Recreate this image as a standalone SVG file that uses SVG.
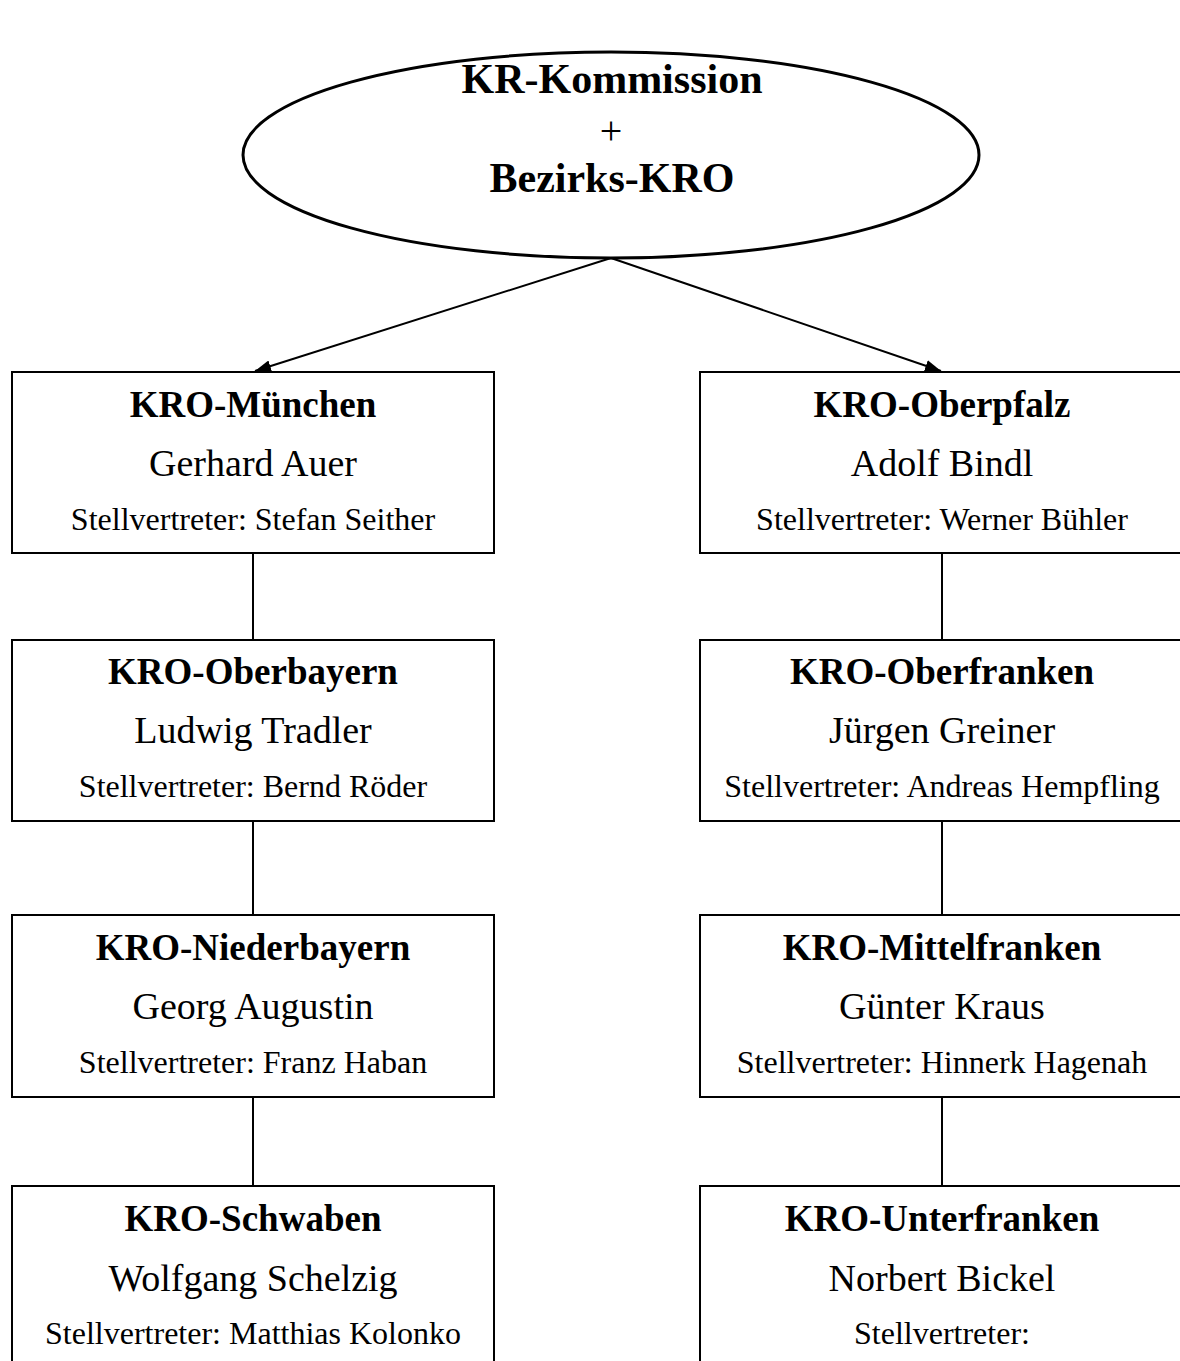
<svg xmlns="http://www.w3.org/2000/svg" width="1180" height="1361" viewBox="0 0 1180 1361">
<style>
.box{fill:#fff;stroke:#000;stroke-width:2}
.t{font-family:"Liberation Serif","Times New Roman",serif;text-anchor:middle;fill:#000}
.h{font-size:37px;font-weight:bold}
.n{font-size:38px}
.s{font-size:32px}
.top{font-size:42px;font-weight:bold}
.c{stroke:#000;stroke-width:2;fill:none}
</style>
<defs>
<marker id="ah" viewBox="0 0 16 12" refX="16" refY="6" markerWidth="16" markerHeight="12" markerUnits="userSpaceOnUse" orient="auto"><path d="M0,0 L16,6 L0,12 z" fill="#000"/></marker>
</defs>
<rect width="1180" height="1361" fill="#fff"/>
<g id="connectors">
<line class="c" x1="611" y1="258" x2="255" y2="371" marker-end="url(#ah)"/>
<line class="c" x1="611" y1="258" x2="941" y2="371" marker-end="url(#ah)"/>
<line class="c" x1="253" y1="553" x2="253" y2="640"/>
<line class="c" x1="253" y1="821" x2="253" y2="915"/>
<line class="c" x1="253" y1="1097" x2="253" y2="1186"/>
<line class="c" x1="942" y1="553" x2="942" y2="640"/>
<line class="c" x1="942" y1="821" x2="942" y2="915"/>
<line class="c" x1="942" y1="1097" x2="942" y2="1186"/>
</g>
<g id="root">
<ellipse cx="611" cy="155" rx="368" ry="103" fill="#fff" stroke="#000" stroke-width="3"/>
<text class="t top" x="612" y="93">KR-Kommission</text>
<text class="t" x="611" y="144" font-size="40">+</text>
<text class="t top" x="612" y="192">Bezirks-KRO</text>
</g>
<g id="muenchen">
<rect class="box" x="12" y="372" width="482" height="181"/>
<text class="t h" x="253" y="417">KRO-München</text>
<text class="t n" x="253" y="476">Gerhard Auer</text>
<text class="t s" x="253" y="530">Stellvertreter: Stefan Seither</text>
</g>
<g id="oberbayern">
<rect class="box" x="12" y="640" width="482" height="181"/>
<text class="t h" x="253" y="684">KRO-Oberbayern</text>
<text class="t n" x="253" y="743">Ludwig Tradler</text>
<text class="t s" x="253" y="797">Stellvertreter: Bernd Röder</text>
</g>
<g id="niederbayern">
<rect class="box" x="12" y="915" width="482" height="182"/>
<text class="t h" x="253" y="960">KRO-Niederbayern</text>
<text class="t n" x="253" y="1019">Georg Augustin</text>
<text class="t s" x="253" y="1073">Stellvertreter: Franz Haban</text>
</g>
<g id="schwaben">
<rect class="box" x="12" y="1186" width="482" height="190"/>
<text class="t h" x="253" y="1231">KRO-Schwaben</text>
<text class="t n" x="253" y="1291">Wolfgang Schelzig</text>
<text class="t s" x="253" y="1344">Stellvertreter: Matthias Kolonko</text>
</g>
<g id="oberpfalz">
<rect class="box" x="700" y="372" width="490" height="181"/>
<text class="t h" x="942" y="417">KRO-Oberpfalz</text>
<text class="t n" x="942" y="476">Adolf Bindl</text>
<text class="t s" x="942" y="530">Stellvertreter: Werner Bühler</text>
</g>
<g id="oberfranken">
<rect class="box" x="700" y="640" width="490" height="181"/>
<text class="t h" x="942" y="684">KRO-Oberfranken</text>
<text class="t n" x="942" y="743">Jürgen Greiner</text>
<text class="t s" x="942" y="797">Stellvertreter: Andreas Hempfling</text>
</g>
<g id="mittelfranken">
<rect class="box" x="700" y="915" width="490" height="182"/>
<text class="t h" x="942" y="960">KRO-Mittelfranken</text>
<text class="t n" x="942" y="1019">Günter Kraus</text>
<text class="t s" x="942" y="1073">Stellvertreter: Hinnerk Hagenah</text>
</g>
<g id="unterfranken">
<rect class="box" x="700" y="1186" width="490" height="190"/>
<text class="t h" x="942" y="1231">KRO-Unterfranken</text>
<text class="t n" x="942" y="1291">Norbert Bickel</text>
<text class="t s" x="942" y="1344">Stellvertreter:</text>
</g>
</svg>
